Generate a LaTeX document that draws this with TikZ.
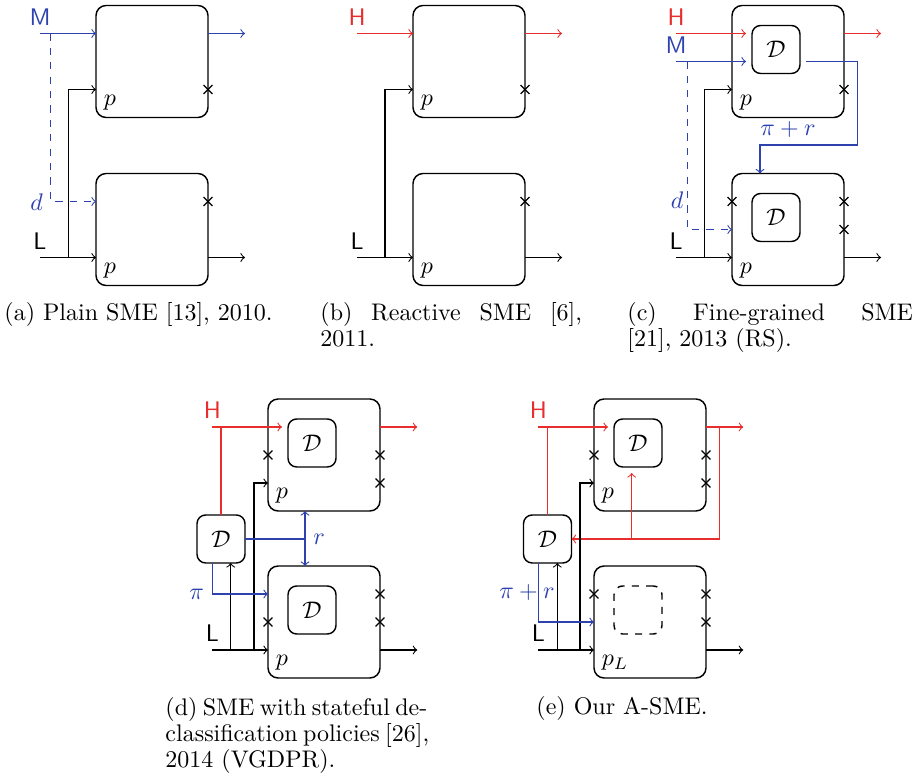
\documentclass[tikz,border=0pt]{standalone}
\usetikzlibrary{shapes.misc}
\definecolor{mblue}{RGB}{45,65,175}
\definecolor{hred}{RGB}{232,45,45}
\begin{document}
\begin{tikzpicture}[x=0.4167pt,y=-0.4167pt,
  bigbox/.style={draw,rounded corners=4.2pt,minimum width=46.67pt,minimum height=46.67pt,inner sep=0pt,outer sep=0pt,line width=0.6pt},
  dbox/.style={draw,rounded corners=3.6pt,minimum width=20pt,minimum height=20pt,inner sep=0pt,outer sep=2.5pt,line width=0.6pt},
  sdbox/.style={draw,rounded corners=3.6pt,minimum width=20pt,minimum height=20pt,inner sep=0pt,outer sep=0pt,line width=0.6pt},
  xmk/.style={draw,cross out,minimum size=3.2pt,inner sep=0pt,line width=0.45pt},
  lab/.style={font=\sffamily,above},
  plab/.style={anchor=west,inner sep=0pt},
  captxt/.style={anchor=base west,inner sep=0pt},
  wire/.style={line width=0.45pt},
  bl/.style={wire,mblue},
  rd/.style={wire,hred}]
\useasboundingbox (0,0) rectangle (919,780);

% ================= (a) =================
\node[bigbox] (a1) at (152,61.5) {};
\node[bigbox] (a2) at (152,229.5) {};
\coordinate (aM) at (40,33.5);
\coordinate (aMo) at (245,33.5);
\coordinate (ad1) at (50.7,33.5);
\coordinate (ad2) at (50.7,201.5);
\coordinate (aL) at (40,257.5);
\coordinate (aLo) at (245,257.5);
\coordinate (av1) at (68.3,257.5);
\coordinate (av2) at (68.3,89.5);
\node[lab,text=mblue] (aMl) at (aM) {M};
\node[lab] (aLl) at (aL) {L};
\node[text=mblue] (adl) at (36.5,202.5) {$d$};
\draw[bl,->] (aM) -- (aM -| a1.west);
\draw[bl,->] (aM -| a1.east) -- (aMo);
\draw[bl,dashed,->] (ad1) -- (ad2) -- (ad2 -| a2.west);
\draw[wire,->] (aL) -- (aL -| a2.west);
\draw[wire,->] (av1) -- (av2) -- (av2 -| a1.west);
\draw[wire,->] (aL -| a2.east) -- (aLo);
\node[xmk] (ax1) at (a1.east |- av2) {};
\node[xmk] (ax2) at (a2.east |- ad2) {};
\node[plab] (ap1) at (103.3,102.5) {$p$};
\node[plab] (ap2) at (103.3,270.5) {$p$};

% ================= (b) =================
\node[bigbox] (b1) at (469,61.5) {};
\node[bigbox] (b2) at (469,229.5) {};
\coordinate (bH) at (357,33.5);
\coordinate (bHo) at (562,33.5);
\coordinate (bL) at (357,257.5);
\coordinate (bLo) at (562,257.5);
\coordinate (bv1) at (385,257.5);
\coordinate (bv2) at (385,89.5);
\node[lab,text=hred] (bHl) at (bH) {H};
\node[lab] (bLl) at (bL) {L};
\draw[rd,->] (bH) -- (bH -| b1.west);
\draw[rd,->] (bH -| b1.east) -- (bHo);
\draw[wire,->] (bL) -- (bL -| b2.west);
\draw[wire,->] (bv1) -- (bv2) -- (bv2 -| b1.west);
\draw[wire,->] (bL -| b2.east) -- (bLo);
\node[xmk] (bx1) at (b1.east |- bv2) {};
\node[xmk] (bx2) at (525,201.5) {};
\node[plab] (bp1) at (420.3,102.5) {$p$};
\node[plab] (bp2) at (420.3,270.5) {$p$};

% ================= (c) =================
\node[bigbox] (c1) at (788,61.5) {};
\node[bigbox] (c2) at (788,229.5) {};
\node[dbox] (cD1) at (776,49.5) {$\mathcal{D}$};
\node[dbox] (cD2) at (776,217.5) {$\mathcal{D}$};
\coordinate (cH) at (676,33.5);
\coordinate (cHo) at (881,33.5);
\coordinate (cM) at (676,61.5);
\coordinate (cb1) at (857.7,61.5);
\coordinate (cb2) at (857.7,145);
\coordinate (cb3) at (760,145);
\coordinate (cd1) at (687.3,61.5);
\coordinate (cd2) at (687.3,229.5);
\coordinate (cL) at (676,257.5);
\coordinate (cLo) at (881,257.5);
\coordinate (cv1) at (704.3,257.5);
\coordinate (cv2) at (704.3,89.5);
\node[lab,text=hred] (cHl) at (cH) {H};
\node[lab,text=mblue] (cMl) at (cM) {M};
\node[lab] (cLl) at (cL) {L};
\node[text=mblue] (cdl) at (677,200.5) {$d$};
\node[text=mblue] (cpr) at (788,130) {$\pi+r$};
\draw[rd,->] (cH) -- (cH -| cD1.west);
\draw[rd,->] (cH -| c1.east) -- (cHo);
\draw[bl,->] (cM) -- (cM -| cD1.west);
\draw[bl,->] (cM -| cD1.east) -- (cb1) -- (cb2) -- (cb3) -- (cb3 |- c2.north);
\draw[bl,dashed,->] (cd1) -- (cd2) -- (cd2 -| c2.west);
\draw[wire,->] (cL) -- (cL -| c2.west);
\draw[wire,->] (cv1) -- (cv2) -- (cv2 -| c1.west);
\draw[wire,->] (cL -| c2.east) -- (cLo);
\node[xmk] (cx1) at (c1.east |- cv2) {};
\node[xmk] (cx2) at (732,201.5) {};
\node[xmk] (cx3) at (844,201.5) {};
\node[xmk] (cx4) at (844,229.5) {};
\node[plab] (cp1) at (739.3,102.5) {$p$};
\node[plab] (cp2) at (739.3,270.5) {$p$};

% ================= (d) =================
\node[bigbox] (d1) at (324,455) {};
\node[bigbox] (d2) at (324,622) {};
\node[dbox] (dD1) at (312,443) {$\mathcal{D}$};
\node[dbox] (dD2) at (312,610) {$\mathcal{D}$};
\node[sdbox] (dS) at (221,539) {$\mathcal{D}$};
\coordinate (dH) at (212.3,427);
\coordinate (dHo) at (417.3,427);
\coordinate (dHj) at (221,427);
\coordinate (dL) at (212.3,650);
\coordinate (dLo) at (417.3,650);
\coordinate (dv1) at (254,650);
\coordinate (dv2) at (254,483);
\coordinate (du1) at (230.7,650);
\coordinate (dr1) at (305,539);
\coordinate (dpi1) at (212.3,594);
\node[lab,text=hred] (dHl) at (dH) {H};
\node[lab] (dLl) at (dL) {L};
\node[text=mblue,right] (drl) at (dr1) {$r$};
\node[text=mblue,left] (dpil) at (dpi1) {$\pi$};
\draw[rd,->] (dH) -- (dH -| dD1.west);
\draw[rd,->] (dH -| d1.east) -- (dHo);
\draw[rd] (dHj) -- (dS.north);
\draw[wire,->] (dL) -- (dL -| d2.west);
\draw[wire,->] (dv1) -- (dv2) -- (dv2 -| d1.west);
\draw[wire,->] (du1) -- (du1 |- dS.south);
\draw[wire,->] (dL -| d2.east) -- (dLo);
\draw[bl] (dS.east) -- (dr1);
\draw[bl,<->] (dr1 |- d1.south) -- (dr1 |- d2.north);
\draw[bl,->] (dpi1 |- dS.south) -- (dpi1) -- (dpi1 -| d2.west);
\node[xmk] (dx1) at (268,455) {};
\node[xmk] (dx2) at (380,455) {};
\node[xmk] (dx3) at (380,483) {};
\node[xmk] (dx4) at (380,594) {};
\node[xmk] (dx5) at (380,622) {};
\node[xmk] (dx6) at (268,622) {};
\node[plab] (dp1) at (275.3,496) {$p$};
\node[plab] (dp2) at (275.3,663) {$p$};

% ================= (e) =================
\node[bigbox] (e1) at (650,455) {};
\node[bigbox] (e2) at (650,622) {};
\node[dbox] (eD1) at (638,443) {$\mathcal{D}$};
\node[sdbox,dashed] (eD2) at (638,610) {};
\node[sdbox] (eS) at (547.5,539) {$\mathcal{D}$};
\coordinate (eH) at (538.3,427);
\coordinate (eHo) at (743.3,427);
\coordinate (eHj) at (547.5,427);
\coordinate (ef1) at (719.3,427);
\coordinate (ef2) at (719.3,539);
\coordinate (ef3) at (631.7,539);
\coordinate (eL) at (538.3,650);
\coordinate (eLo) at (743.3,650);
\coordinate (ev1) at (580,650);
\coordinate (ev2) at (580,483);
\coordinate (eu1) at (557.3,650);
\coordinate (epi1) at (538.3,622);
\node[lab,text=hred] (eHl) at (eH) {H};
\node[lab] (eLl) at (eL) {L};
\node[text=mblue] (eprl) at (527,593) {$\pi+r$};
\draw[rd,->] (eH) -- (eH -| eD1.west);
\draw[rd,->] (eH -| e1.east) -- (eHo);
\draw[rd] (eHj) -- (eS.north);
\draw[rd,->] (ef1) -- (ef2) -- (ef2 -| eS.east);
\draw[rd,->] (ef3) -- (ef3 |- eD1.south);
\draw[wire,->] (eL) -- (eL -| e2.west);
\draw[wire,->] (ev1) -- (ev2) -- (ev2 -| e1.west);
\draw[wire,->] (eu1) -- (eu1 |- eS.south);
\draw[wire,->] (eL -| e2.east) -- (eLo);
\draw[bl,->] (epi1 |- eS.south) -- (epi1) -- (epi1 -| e2.west);
\node[xmk] (ex1) at (594,455) {};
\node[xmk] (ex2) at (706,455) {};
\node[xmk] (ex3) at (706,483) {};
\node[xmk] (ex4) at (594,594) {};
\node[xmk] (ex5) at (706,594) {};
\node[xmk] (ex6) at (706,622) {};
\node[plab] (ep1) at (601.3,496) {$p$};
\node[plab] (ep2) at (601.3,663) {$p_L$};

% ================= captions =================
\node[captxt] (capa) at (4,321) {(a) Plain SME [13], 2010.};
\node[captxt] (capb1) at (320,321) {\makebox[109pt][s]{(b) Reactive SME [6],}};
\node[captxt] (capb2) at (320,346.7) {2011.};
\node[captxt] (capc1) at (627,321) {\makebox[119pt][s]{(c) Fine-grained SME}};
\node[captxt] (capc2) at (627,346.7) {[21], 2013 (RS).};
\node[captxt] (capd1) at (165,716) {\makebox[109pt][s]{(d) SME with stateful de-}};
\node[captxt] (capd2) at (165,741.5) {\makebox[109pt][s]{classification policies [26],}};
\node[captxt] (capd3) at (165,767) {2014 (VGDPR).};
\node[captxt] (cape) at (536,715) {(e) Our A-SME.};
\end{tikzpicture}
\end{document}
